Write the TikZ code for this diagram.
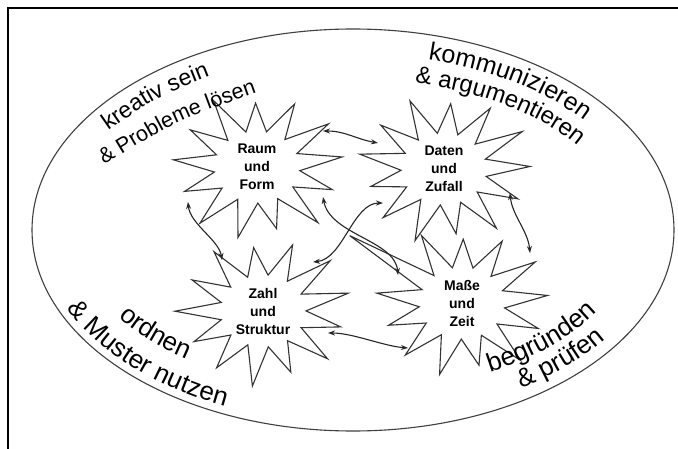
\documentclass[tikz,border=0pt]{standalone}
\usepackage{fontspec}
\setmainfont{Liberation Sans}
\usetikzlibrary{decorations.text,arrows.meta}
\newcommand\burst[4]{%
  \draw[starline,shift={(#1)},yscale=0.84,rotate=#2] (0:#3) \foreach \rr [count=\n] in {#4} { -- ({(\n-0.5)*360/13}:43) -- ({\n*360/13}:\rr) } -- ({12.5*360/13}:43) -- cycle;}
\begin{document}
\begin{tikzpicture}[x=1pt,y=-1pt,
  frameline/.style={line width=2.6pt,black},
  ringline/.style={line width=1.1pt,black!75},
  starline/.style={line width=1.1pt,black!80,line join=miter},
  link/.style={line width=1.1pt,black!85,{Stealth[length=7pt,width=5pt]}-{Stealth[length=7pt,width=5pt]}},
  topic/.style={align=center,font=\fontsize{14}{18}\selectfont\bfseries,inner sep=0pt,minimum size=140pt,circle},
  curved/.style 2 args={decorate,decoration={text along path,text align=left,text={|\fontsize{#1}{#1}\selectfont|#2}}}
]
\useasboundingbox (0,0) rectangle (678,449);
\fill[white] (0,0) rectangle (678,449);
\draw[frameline] (8,449) -- (8,8) -- (678,8);
\draw[ringline] (353,230) ellipse[x radius=321pt, y radius=201pt];

\node[topic] (raum)  at (257,167) {Raum\\und\\Form};
\node[topic] (daten) at (444,169) {Daten\\und\\Zufall};
\node[topic] (zahl)  at (263,311) {Zahl\\und\\Struktur};
\node[topic] (masse) at (462,303) {Maße\\und\\Zeit};

\burst{raum}{8}{86}{80,90,76,86,88,78,84,80,90,76,84,88}
\burst{daten}{2}{86}{82,88,78,90,84,76,86,82,88,78,86,90}
\burst{zahl}{14}{88}{80,86,78,90,82,78,88,80,86,76,84,90}
\burst{masse}{6}{86}{82,90,76,88,84,78,86,138,90,76,84,88}

\path[curved={23}{kreativ sein}] (108,131) .. controls (157,97) .. (216,74);
\path[curved={21.5}{{\&} Probleme lösen}] (104,165) .. controls (176,121) .. (258,92);
\path[curved={25}{kommunizieren}] (353,230) ++(75.3:296pt and 176pt) arc[start angle=75.3, end angle=20, x radius=296pt, y radius=176pt];
\path[curved={24}{{\&} argumentieren}] (353,230) ++(76.8:271pt and 151pt) arc[start angle=76.8, end angle=15, x radius=271pt, y radius=151pt];
\path[curved={26}{{\&} Muster nutzen}] (353,230) ++(204:313pt and 193pt) arc[start angle=204, end angle=268, x radius=313pt, y radius=193pt];
\path[curved={26}{ordnen}] (353,230) ++(213:280pt and 160pt) arc[start angle=213, end angle=268, x radius=280pt, y radius=160pt];
\path[curved={26}{begründen}] (353,230) ++(299:283pt and 163pt) arc[start angle=299, end angle=352, x radius=283pt, y radius=163pt];
\path[curved={26}{{\&} prüfen}] (353,230) ++(303:309pt and 189pt) arc[start angle=303, end angle=352, x radius=309pt, y radius=189pt];

\draw[link] ([shift={(66,-36)}]raum.center) .. controls +(22,0) and +(-22,-4) .. ([shift={(-66,-26)}]daten.center);
\draw[link] ([shift={(-69,35)}]raum.center) .. controls +(2,22) and +(-3,-20) .. ([shift={(-41,-51)}]zahl.center);
\draw[link] ([shift={(-61,34)}]daten.center) .. controls +(-30,0) and +(30,-3) .. ([shift={(50,-49)}]zahl.center);
\draw[link] ([shift={(66,30)}]raum.center) .. controls +(7,38) and +(-3,-35) .. ([shift={(-64,-28)}]masse.center);
\draw[link] ([shift={(66,24)}]daten.center) .. controls +(2,22) and +(-2,-22) .. ([shift={(68,-50)}]masse.center);
\draw[link] ([shift={(65,22)}]zahl.center) .. controls +(25,0) and +(-25,-2) .. ([shift={(-54,45)}]masse.center);
\end{tikzpicture}
\end{document}
